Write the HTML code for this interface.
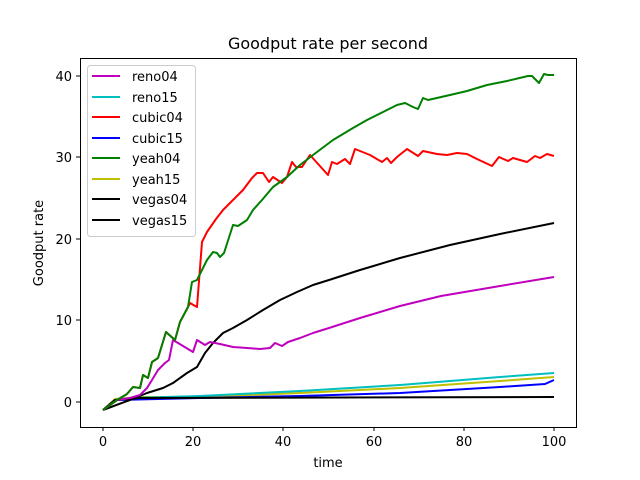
<!DOCTYPE html><html><head><style>body{margin:0;background:#fff}svg{display:block}text{font-family:"DejaVu Sans","Liberation Sans",sans-serif;fill:#000}</style></head><body>
<svg width="640" height="480" viewBox="0 0 640 480" xmlns="http://www.w3.org/2000/svg">
<rect width="640" height="480" fill="#fff"/>
<g fill="none" stroke-width="2" stroke-linejoin="round">
<polyline stroke="#bfbf00" points="103,410 115,399 140,397 200,397 300,393 400,388 500,381 554,377"/>
<polyline stroke="#00bfbf" points="103,410 115,400 130,398 200,396 300,391 400,385 500,377 554,373"/>
<polyline stroke="#0000ff" points="103,410 115,400 200,398 300,396 400,393 450,390 500,387 545,384 554,380"/>
<polyline stroke="#000" points="103,410 115,400 140,398 554,397"/>
<polyline stroke="#000" points="103,410 130,400 147,393 163,388 173,383 187,373 197,367 205,353 213,343 223,333 233,328 247,320 263,310 280,300 297,292 313,285 329,280 360,270 400,258 450,245 500,234 554,223"/>
<polyline stroke="#bf00bf" points="103,410 117,400 130,398 140,395 147,388 152,380 158,370 165,363 169,360 173,340 193,352 197,340 205,345 210,342 220,344 233,347 247,348 260,349 270,348 275,343 282,346 288,342 300,338 313,333 329,328 360,318 400,306 441,296 500,286 554,277"/>
<polyline stroke="#ff0000" points="103,410 117,400 127,394 133,387 140,388 143,375 148,378 152,362 158,358 166,332 175,340 180,322 188,307 190,303 197,307 202,242 207,232 216,219 223,210 233,200 243,190 252,178 257,173 263,173 269,182 273,177 282,183 287,177 292,162 296,167 302,167 310,155 328,175 332,162 337,164 345,159 350,164 355,149 370,155 382,162 387,158 391,163 397,157 407,149 418,156 423,151 437,154 447,155 457,153 467,154 477,159 492,166 499,157 508,161 513,158 527,162 535,156 540,158 547,154 554,156"/>
<polyline stroke="#008000" points="103,410 117,400 127,394 133,387 140,388 143,375 148,378 152,362 158,358 166,332 175,340 180,322 188,307 192,282 197,280 207,260 213,252 217,253 220,257 224,253 233,225 238,226 247,220 253,210 262,200 273,187 287,177 300,165 313,155 333,140 353,128 367,120 383,112 397,105 405,103 413,107 418,109 423,98 428,100 450,95 467,91 487,85 507,81 528,76 532,76 539,83 544,74 548,75 554,75"/>
</g>
<rect x="80.5" y="58.5" width="496" height="369" fill="none" stroke="#000" stroke-width="1"/>
<g stroke="#000" stroke-width="1">
<line x1="103" y1="427" x2="103" y2="431"/><line x1="193" y1="427" x2="193" y2="431"/><line x1="283" y1="427" x2="283" y2="431"/><line x1="374" y1="427" x2="374" y2="431"/><line x1="464" y1="427" x2="464" y2="431"/><line x1="554" y1="427" x2="554" y2="431"/>
<line x1="76" y1="402" x2="80" y2="402"/><line x1="76" y1="320" x2="80" y2="320"/><line x1="76" y1="239" x2="80" y2="239"/><line x1="76" y1="157" x2="80" y2="157"/><line x1="76" y1="76" x2="80" y2="76"/>
</g>
<g font-size="13" text-anchor="middle">
<text x="103" y="446">0</text><text x="193" y="446">20</text><text x="283" y="446">40</text><text x="374" y="446">60</text><text x="464" y="446">80</text><text x="554" y="446">100</text>
<text x="328" y="467">time</text>
<text x="328" y="49" font-size="16">Goodput rate per second</text>
<text transform="translate(43,243) rotate(-90)">Goodput rate</text>
</g>
<g font-size="13" text-anchor="end">
<text x="72" y="407">0</text><text x="72" y="325">10</text><text x="72" y="244">20</text><text x="72" y="162">30</text><text x="72" y="81">40</text>
</g>
<rect x="87.5" y="65.5" width="108" height="171" rx="3" fill="#fff" fill-opacity="0.8" stroke="#ccc"/>
<g stroke-width="2">
<line x1="92" y1="76" x2="120" y2="76" stroke="#bf00bf"/>
<line x1="92" y1="97" x2="120" y2="97" stroke="#00bfbf"/>
<line x1="92" y1="117" x2="120" y2="117" stroke="#ff0000"/>
<line x1="92" y1="138" x2="120" y2="138" stroke="#0000ff"/>
<line x1="92" y1="158" x2="120" y2="158" stroke="#008000"/>
<line x1="92" y1="179" x2="120" y2="179" stroke="#bfbf00"/>
<line x1="92" y1="199" x2="120" y2="199" stroke="#000"/>
<line x1="92" y1="220" x2="120" y2="220" stroke="#000"/>
</g>
<g font-size="13">
<text x="132" y="81">reno04</text><text x="132" y="102">reno15</text><text x="132" y="122">cubic04</text><text x="132" y="143">cubic15</text><text x="132" y="163">yeah04</text><text x="132" y="184">yeah15</text><text x="132" y="204">vegas04</text><text x="132" y="225">vegas15</text>
</g>
</svg></body></html>
